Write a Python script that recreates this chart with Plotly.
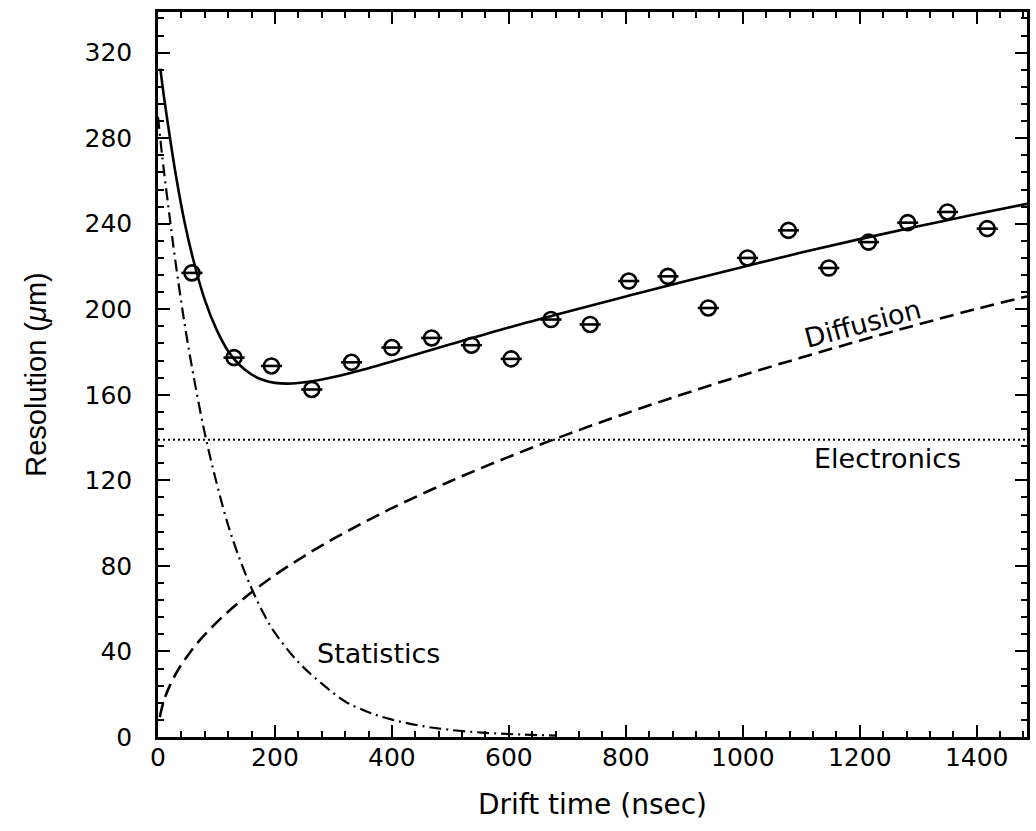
import plotly.graph_objects as go

# Measured resolution vs drift time
drift_ns = [58, 130, 194, 263, 331, 400, 468, 536, 604, 672, 739, 805, 872, 941,
            1008, 1078, 1147, 1215, 1282, 1350, 1418]
resolution_um = [217.0, 177.4, 173.5, 162.5, 175.2, 182.1, 186.6, 183.2, 176.8, 195.2,
                 192.9, 213.2, 215.4, 200.6, 224.0, 236.9, 219.3, 231.4, 240.5, 245.5, 237.7]

# Fitted total resolution
total_t = [4, 10, 20, 30, 45, 60, 80, 100, 120, 140, 160, 180, 200, 230, 260, 300, 350,
           400, 500, 600, 700, 800, 900, 1000, 1100, 1200, 1300, 1400, 1486]
total_r = [312.5, 299.7, 281.0, 263.6, 241.3, 223.5, 204.4, 190.6, 180.4, 173.8, 169.5,
           166.9, 165.6, 165.3, 166.2, 168.3, 171.7, 175.6, 183.6, 191.5, 198.8, 206.0,
           213.0, 219.8, 226.5, 232.8, 238.8, 244.5, 249.3]

# Statistics contribution
stat_t = [0, 5, 10, 20, 30, 45, 60, 80, 100, 120, 140, 160, 180, 200, 240, 280, 320,
          360, 400, 450, 500, 560, 620, 680]
stat_r = [290, 277, 265, 243, 222, 194, 170, 142, 119, 99, 83, 69.5, 58, 48.7, 35, 25,
          16.6, 11.6, 8.1, 5.2, 3.3, 1.95, 1.15, 0.67]

# Diffusion contribution
diff_t = [3, 10, 20, 35, 50, 70, 100, 130, 160, 200, 250, 300, 350, 400, 500, 600, 700,
          800, 900, 1000, 1100, 1200, 1300, 1400, 1486]
diff_r = [9.3, 16.9, 23.9, 31.7, 37.8, 44.8, 53.5, 61, 67.7, 75.7, 84.6, 92.7, 100, 107,
          119.6, 131, 141.5, 151.3, 160.5, 169.2, 177.4, 185.3, 192.9, 200.2, 206]

# Electronics contribution (constant)
elec_t = [0, 1486]
elec_r = [139, 139]

x_ticks = [0, 200, 400, 600, 800, 1000, 1200, 1400]
y_ticks = [0, 40, 80, 120, 160, 200, 240, 280, 320]

FONT = "DejaVu Sans"

fig = go.Figure()

fig.add_trace(go.Scatter(x=elec_t, y=elec_r, mode="lines",
                         line=dict(color="black", width=2, dash="2px,3px"),
                         hoverinfo="skip"))
fig.add_trace(go.Scatter(x=diff_t, y=diff_r, mode="lines", line_shape="spline",
                         line=dict(color="black", width=2.6, dash="14px,7px"),
                         hoverinfo="skip"))
fig.add_trace(go.Scatter(x=stat_t, y=stat_r, mode="lines", line_shape="spline",
                         line=dict(color="black", width=2.2, dash="12px,5px,2px,5px"),
                         hoverinfo="skip"))
fig.add_trace(go.Scatter(x=total_t, y=total_r, mode="lines", line_shape="spline",
                         line=dict(color="black", width=2.6),
                         hoverinfo="skip"))
fig.add_trace(go.Scatter(x=drift_ns, y=resolution_um, mode="markers",
                         marker=dict(symbol="circle-open", size=15, color="black",
                                     line=dict(width=2.6, color="black")),
                         error_x=dict(type="constant", value=18, width=0,
                                      thickness=2.6, color="black"),
                         hoverinfo="skip"))

fig.add_annotation(x=377, y=39, text="Statistics", showarrow=False,
                   font=dict(family=FONT, size=27, color="black"))
fig.add_annotation(x=1248, y=130.4, text="Electronics", showarrow=False,
                   font=dict(family=FONT, size=27, color="black"))
fig.add_annotation(x=1205, y=193.5, text="Diffusion", showarrow=False, textangle=-15,
                   font=dict(family=FONT, size=27, color="black"))

axis_common = dict(
    showline=True, linecolor="black", linewidth=2.5, mirror="ticks",
    ticks="inside", ticklen=12, tickwidth=2.2, tickcolor="black",
    showgrid=False, zeroline=False,
    tickfont=dict(family=FONT, size=25, color="black"),
)

fig.update_xaxes(range=[0, 1486], tickvals=x_ticks, ticktext=[str(v) for v in x_ticks],
                 minor=dict(tickvals=list(range(0, 1486, 40)), ticks="inside",
                            ticklen=6, tickwidth=2, tickcolor="black"),
                 ticklabelstandoff=-4,
                 title=dict(text="Drift time (nsec)", standoff=24,
                            font=dict(family=FONT, size=28, color="black")),
                 **axis_common)
fig.update_yaxes(range=[0, 339], tickvals=y_ticks, ticktext=[str(v) for v in y_ticks],
                 minor=dict(tickvals=list(range(0, 340, 8)), ticks="inside",
                            ticklen=6, tickwidth=2, tickcolor="black"),
                 ticklabelstandoff=18,
                 title=dict(text="Resolution (<i>μ</i>m)", standoff=30,
                            font=dict(family="Liberation Sans", size=29, color="black")),
                 **axis_common)

fig.update_layout(width=1036, height=831, showlegend=False,
                  margin=dict(l=158, r=6, t=12, b=94),
                  paper_bgcolor="white", plot_bgcolor="white")

fig.write_html("out.html")
